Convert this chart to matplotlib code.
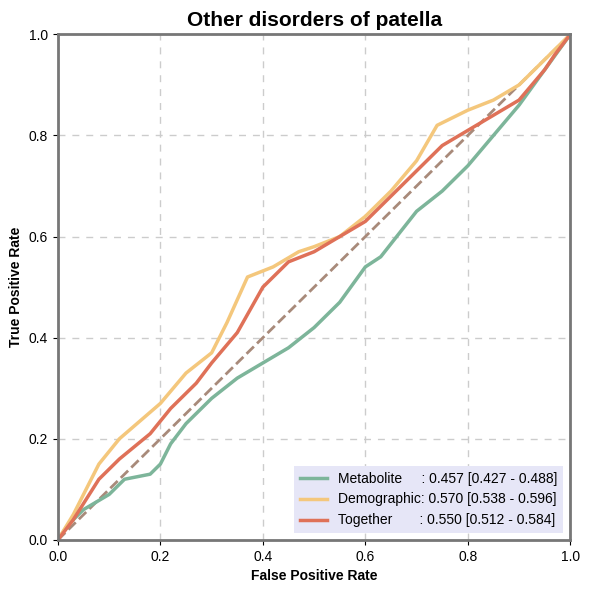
import numpy as np
import matplotlib.pyplot as plt

plt.rcParams['font.family'] = ['Liberation Sans', 'DejaVu Sans']

# ROC points
met_fpr = [0, 0.02, 0.05, 0.1, 0.13, 0.18, 0.2, 0.22, 0.25, 0.3, 0.35, 0.4, 0.45, 0.5, 0.55, 0.6, 0.63, 0.7, 0.75, 0.8, 0.85, 0.9, 0.95, 1]
met_tpr = [0, 0.03, 0.06, 0.09, 0.12, 0.13, 0.15, 0.19, 0.23, 0.28, 0.32, 0.35, 0.38, 0.42, 0.47, 0.54, 0.56, 0.65, 0.69, 0.74, 0.80, 0.86, 0.93, 1]
dem_fpr = [0, 0.03, 0.08, 0.12, 0.2, 0.25, 0.3, 0.33, 0.37, 0.42, 0.47, 0.5, 0.55, 0.6, 0.65, 0.7, 0.74, 0.8, 0.85, 0.9, 0.95, 1]
dem_tpr = [0, 0.05, 0.15, 0.2, 0.27, 0.33, 0.37, 0.43, 0.52, 0.54, 0.57, 0.58, 0.60, 0.64, 0.69, 0.75, 0.82, 0.85, 0.87, 0.9, 0.95, 1]
tog_fpr = [0, 0.03, 0.08, 0.12, 0.18, 0.22, 0.27, 0.3, 0.35, 0.4, 0.45, 0.5, 0.55, 0.6, 0.65, 0.7, 0.75, 0.8, 0.85, 0.9, 0.95, 0.97, 1]
tog_tpr = [0, 0.04, 0.12, 0.16, 0.21, 0.26, 0.31, 0.35, 0.41, 0.50, 0.55, 0.57, 0.60, 0.63, 0.68, 0.73, 0.78, 0.81, 0.84, 0.87, 0.93, 0.96, 1]

labels = ["Metabolite     : 0.457 [0.427 - 0.488]",
          "Demographic: 0.570 [0.538 - 0.596]",
          "Together       : 0.550 [0.512 - 0.584]"]
colors = ["#7db59a", "#f4c77c", "#df7158"]

fig, ax = plt.subplots(figsize=(5.91, 5.92), dpi=100)
fig.subplots_adjust(left=0.098, right=0.965, top=0.942, bottom=0.088)

ax.plot([0, 1], [0, 1], "--", color="#a88a7a", lw=2)
for x, y, lab, c in zip([met_fpr, dem_fpr, tog_fpr], [met_tpr, dem_tpr, tog_tpr], labels, colors):
    ax.plot(x, y, color=c, lw=2.5, label=lab)

ax.set_xlim(0, 1)
ax.set_ylim(0, 1)
ax.grid(True, ls=(0, (5, 5)), color="#cccccc", lw=1)
for s in ax.spines.values():
    s.set_color("#777777")
    s.set_linewidth(2)
ax.set_xlabel("False Positive Rate", fontweight="bold", fontsize=10)
ax.set_ylabel("True Positive Rate", fontweight="bold", fontsize=10)
ax.set_title("Other disorders of patella", fontweight="bold", fontsize=15)
leg = ax.legend(loc="lower right", fontsize=10, frameon=True, fancybox=False)
leg.get_frame().set_facecolor("#e6e6f7")
leg.get_frame().set_edgecolor("none")
leg.get_frame().set_alpha(1)

plt.savefig("out.png")
